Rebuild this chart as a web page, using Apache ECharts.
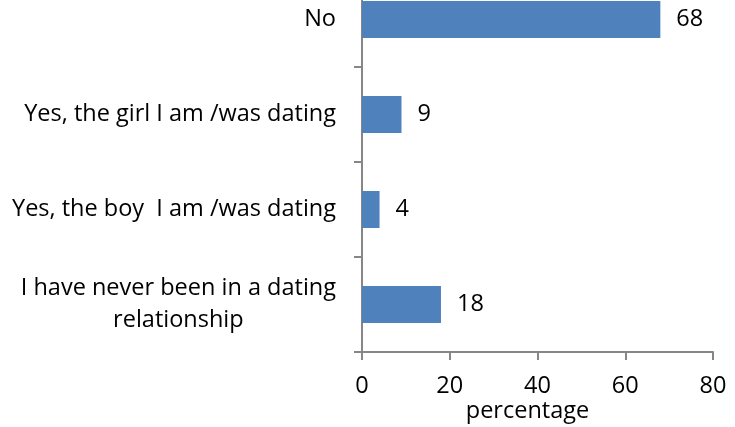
<!DOCTYPE html>
<html>
<head>
<meta charset="utf-8">
<script src="https://cdn.jsdelivr.net/npm/echarts@6/dist/echarts.min.js"></script>
<style>
  html, body { margin: 0; padding: 0; background: #fff; overflow: hidden; }
  /* the plot area starts just above the visible page, so the top band is clipped */
  #chart { position: absolute; left: 0; top: -28px; width: 735px; height: 455px; }
</style>
</head>
<body>
<div id="chart"></div>
<script>
// Answer categories, bottom to top
const categories = [
  'I have never been in a dating\nrelationship',
  'Yes, the boy  I am /was dating',
  'Yes, the girl I am /was dating',
  'No'
];
// Share of respondents (%)
const percentages = [18, 4, 9, 68];
const xTicks = [0, 20, 40, 60, 80];

const FONT = '"Open Sans", "Noto Sans", sans-serif';
const FONT_SIZE = 23.5;
const AXIS_GRAY = '#868686';

const chart = echarts.init(document.getElementById('chart'), null, { renderer: 'canvas' });

chart.setOption({
  animation: false,
  backgroundColor: '#ffffff',
  grid: { left: 362, right: 22, top: 0, bottom: 75, containLabel: false, outerBoundsMode: 'none' },
  xAxis: {
    type: 'value',
    min: xTicks[0],
    max: xTicks[xTicks.length - 1],
    interval: xTicks[1] - xTicks[0],
    splitLine: { show: false },
    axisLine: { show: true, lineStyle: { color: AXIS_GRAY, width: 2 } },
    axisTick: { show: true, length: 8, lineStyle: { color: AXIS_GRAY, width: 2 } },
    axisLabel: { color: '#000', fontFamily: FONT, fontSize: FONT_SIZE, margin: 22 },
    name: 'percentage',
    nameLocation: 'middle',
    nameGap: 47,
    nameMoveOverlap: false,
    nameTextStyle: { color: '#000', fontFamily: FONT, fontSize: FONT_SIZE, lineHeight: 24, padding: [0, 20, 0, 0] }
  },
  yAxis: {
    type: 'category',
    data: categories,
    axisLine: { show: true, lineStyle: { color: AXIS_GRAY, width: 2 } },
    axisTick: { show: true, length: 8, lineStyle: { color: AXIS_GRAY, width: 2 } },
    axisLabel: {
      color: '#000',
      fontFamily: FONT,
      fontSize: FONT_SIZE,
      margin: 26,
      lineHeight: 32,
      formatter: function (v) {
        return v.split('\n').map(function (s) { return '{c|' + s + '}'; }).join('\n');
      },
      rich: {
        c: { align: 'center', color: '#000', fontFamily: FONT, fontSize: FONT_SIZE, lineHeight: 32 }
      }
    }
  },
  series: [{
    type: 'bar',
    data: percentages,
    barWidth: 37,
    itemStyle: { color: '#4F81BD' },
    label: {
      show: true,
      position: 'right',
      distance: 16,
      color: '#000',
      fontFamily: FONT,
      fontSize: FONT_SIZE
    }
  }]
});
</script>
</body>
</html>
